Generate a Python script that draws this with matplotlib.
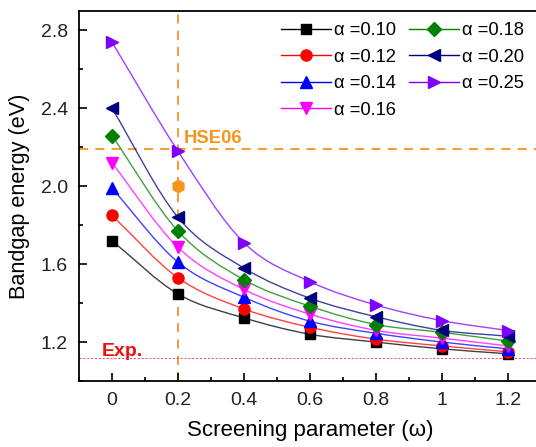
import numpy as np
import matplotlib.pyplot as plt
from matplotlib.path import Path
from matplotlib.patches import PathPatch
from matplotlib.ticker import MultipleLocator, FixedLocator

plt.rcParams['font.family'] = ['Liberation Sans', 'DejaVu Sans']

# Daten
omega = [0, 0.2, 0.4, 0.6, 0.8, 1.0, 1.2]
alpha_labels = ["0.10", "0.12", "0.14", "0.16", "0.18", "0.20", "0.25"]
gap_010 = [1.72, 1.447, 1.324, 1.240, 1.200, 1.165, 1.140]
gap_012 = [1.85, 1.530, 1.370, 1.276, 1.215, 1.180, 1.150]
gap_014 = [1.99, 1.610, 1.430, 1.307, 1.245, 1.200, 1.165]
gap_016 = [2.12, 1.686, 1.470, 1.343, 1.260, 1.220, 1.180]
gap_018 = [2.26, 1.770, 1.520, 1.384, 1.290, 1.250, 1.205]
gap_020 = [2.40, 1.840, 1.580, 1.425, 1.330, 1.260, 1.230]
gap_025 = [2.74, 2.180, 1.710, 1.510, 1.390, 1.310, 1.259]
hse06_x, hse06_y = 0.2, 2.0
hse06_level = 2.19
exp_level = 1.12

series = [gap_010, gap_012, gap_014, gap_016, gap_018, gap_020, gap_025]
colors = ["#000000", "#ff0000", "#0000ff", "#ff00ff", "#008000", "#000080", "#8000ff"]
markers = ["s", "o", "^", "v", "D", "<", ">"]
msizes = [7, 8, 9, 9, 7, 9, 9]
orange = "#f7941d"


def smooth_path(x, y):
    # Catmull-Rom -> Bezier-Kurve durch die Punkte
    p = np.column_stack([x, y]).astype(float)
    n = len(p)
    m = np.zeros_like(p)
    m[0] = p[1] - p[0]
    m[-1] = p[-1] - p[-2]
    for i in range(1, n - 1):
        m[i] = (p[i + 1] - p[i - 1]) / 2
    verts = [p[0]]
    codes = [Path.MOVETO]
    for i in range(n - 1):
        verts += [p[i] + m[i] / 3, p[i + 1] - m[i + 1] / 3, p[i + 1]]
        codes += [Path.CURVE4] * 3
    return Path(verts, codes)


fig = plt.figure(figsize=(5.36, 4.47), dpi=100)
ax = fig.add_axes([79 / 536, 66 / 447, 462 / 536, 370 / 447])

for ys, c, mk, ms, lab in zip(series, colors, markers, msizes, alpha_labels):
    ax.add_patch(PathPatch(smooth_path(omega, ys), fill=False, edgecolor=c,
                           lw=1.0, alpha=0.75, zorder=2))
    ax.plot(omega, ys, linestyle="none", marker=mk, color=c, ms=ms, zorder=3)
    # Legendeneintrag
    ax.plot([], [], color=c, lw=1.0, marker=mk, ms=ms, label="\u03b1 =" + lab)

ax.axvline(0.2, color=orange, ls=(0, (5, 4)), lw=1.3, zorder=1)
ax.axhline(hse06_level, color=orange, ls=(0, (5, 4)), lw=1.3, zorder=1)
ax.axhline(exp_level, color="#ff4040", ls=(0, (2, 2)), lw=0.7, zorder=1)
ax.plot([hse06_x], [hse06_y], marker="h", color=orange, ms=9, ls="none", zorder=3)

ax.text(0.216, 2.203, "HSE06", color=orange, fontsize=13.3, fontweight="bold", va="bottom")
ax.text(-0.03, 1.128, "Exp.", color="#ee1111", fontsize=14, fontweight="bold", va="baseline")

ax.set_xlim(-0.1, 1.3)
ax.set_ylim(1.0, 2.9)
ax.xaxis.set_major_locator(FixedLocator([0, 0.2, 0.4, 0.6, 0.8, 1.0, 1.2]))
ax.set_xticklabels(["0", "0.2", "0.4", "0.6", "0.8", "1", "1.2"])
ax.xaxis.set_minor_locator(MultipleLocator(0.1))
ax.yaxis.set_major_locator(FixedLocator([1.2, 1.6, 2.0, 2.4, 2.8]))
ax.yaxis.set_minor_locator(MultipleLocator(0.2))
ax.tick_params(which="both", direction="in", top=False, right=False,
               labelsize=14, labelcolor="#222222", width=1.2)
ax.tick_params(which="major", length=6, pad=8)
ax.tick_params(which="minor", length=3)
for s in ax.spines.values():
    s.set_linewidth(1.3)
ax.spines["right"].set_visible(False)

ax.set_xlabel("Screening parameter (\u03c9)", fontsize=16, labelpad=8)
ax.set_ylabel("Bandgap energy (eV)", fontsize=15.6, labelpad=8)

ax.legend(ncol=2, loc="upper left", bbox_to_anchor=(0.41, 1.005), frameon=False,
          fontsize=13.2, handlelength=2.7, handletextpad=0.2, columnspacing=0.7,
          labelspacing=0.52, borderaxespad=0.3)

fig.savefig("out.png", dpi=100)
